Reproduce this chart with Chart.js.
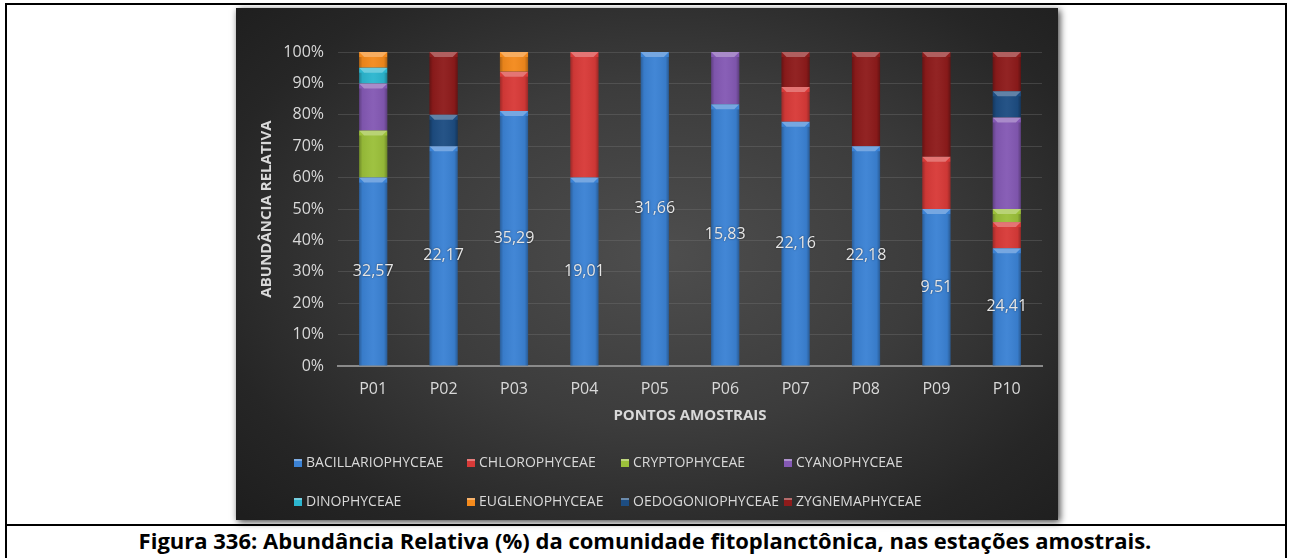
<!DOCTYPE html>
<html>
<head>
<meta charset="utf-8">
<script src="https://cdn.jsdelivr.net/npm/chart.js@4"></script>
<style>
  body { margin: 0; background: #fff; width: 1290px; height: 558px; overflow: hidden; position: relative; font-family: 'Open Sans', sans-serif; }
  #frame { position: absolute; left: 5px; top: 3px; width: 1278px; height: 600px; border: 2px solid #000; }
  #sep { position: absolute; left: 5px; top: 524px; width: 1282px; height: 2px; background: #000; }
  #panel {
    position: absolute; left: 236px; top: 8px; width: 822px; height: 512px;
    background: radial-gradient(ellipse 70% 75% at 52% 48%, #4e4e4e 0%, #3c3c3c 45%, #262626 80%, #1e1e1e 100%);
    box-shadow: 2px 2px 7px rgba(0,0,0,0.75);
  }
  #caption { position: absolute; left: 0; width: 1290px; top: 526px; text-align: center; font-weight: bold; font-size: 22px; line-height: 28px; color: #000; }
</style>
</head>
<body>
<div id="frame"></div>
<div id="panel"><canvas id="myChart" width="822" height="512"></canvas></div>
<div id="sep"></div>
<div id="caption">Figura 336: Abundância Relativa (%) da comunidade fitoplanctônica, nas estações amostrais.</div>
<script>
// Stations along the x axis.
const stations = ['P01', 'P02', 'P03', 'P04', 'P05', 'P06', 'P07', 'P08', 'P09', 'P10'];

// Relative abundance (%) per class, stacked bottom to top.
const bacillariophyceae = [60, 70, 81.25, 60, 100, 83.33, 77.78, 70, 50, 37.5];
const chlorophyceae     = [0, 0, 12.5, 40, 0, 0, 11.11, 0, 16.67, 8.33];
const cryptophyceae     = [15, 0, 0, 0, 0, 0, 0, 0, 0, 4.17];
const cyanophyceae      = [15, 0, 0, 0, 0, 16.67, 0, 0, 0, 29.17];
const dinophyceae       = [5, 0, 0, 0, 0, 0, 0, 0, 0, 0];
const euglenophyceae    = [5, 0, 6.25, 0, 0, 0, 0, 0, 0, 0];
const oedogoniophyceae  = [0, 10, 0, 0, 0, 0, 0, 0, 0, 8.33];
const zygnemaphyceae    = [0, 20, 0, 0, 0, 0, 11.11, 30, 33.33, 12.5];

// Values written on the Bacillariophyceae segments.
const bacillariophyceaeLabels = [32.57, 22.17, 35.29, 19.01, 31.66, 15.83, 22.16, 22.18, 9.51, 24.41];

// y axis ticks
const yTicks = [0, 10, 20, 30, 40, 50, 60, 70, 80, 90, 100];

const series = [
    { label: 'BACILLARIOPHYCEAE', data: bacillariophyceae, color: '#3b82d4' },
    { label: 'CHLOROPHYCEAE', data: chlorophyceae, color: '#d83a38' },
    { label: 'CRYPTOPHYCEAE', data: cryptophyceae, color: '#9bc03a' },
    { label: 'CYANOPHYCEAE', data: cyanophyceae, color: '#8459b4' },
    { label: 'DINOPHYCEAE', data: dinophyceae, color: '#2cb6cf' },
    { label: 'EUGLENOPHYCEAE', data: euglenophyceae, color: '#f48a1c' },
    { label: 'OEDOGONIOPHYCEAE', data: oedogoniophyceae, color: '#1d4d82' },
    { label: 'ZYGNEMAPHYCEAE', data: zygnemaphyceae, color: '#8e1b1b' }
];

const FONT = "'Open Sans', sans-serif";

// Bevel: light top face and shaded sides on each segment.
const bevelPlugin = {
    id: 'bevel',
    afterDatasetsDraw(chart) {
        const ctx = chart.ctx;
        chart.data.datasets.forEach((ds, i) => {
            const meta = chart.getDatasetMeta(i);
            meta.data.forEach((bar) => {
                const { x, y, base, width } = bar.getProps(['x', 'y', 'base', 'width'], true);
                const h = base - y;
                if (h < 1) return;
                const l = x - width / 2, r = x + width / 2;
                const d = Math.min(5, h / 2);
                ctx.save();
                ctx.fillStyle = 'rgba(255,255,255,0.30)';
                ctx.beginPath();
                ctx.moveTo(l, y);
                ctx.lineTo(r, y);
                ctx.lineTo(r - 5, y + d);
                ctx.lineTo(l + 5, y + d);
                ctx.closePath();
                ctx.fill();
                const g = ctx.createLinearGradient(l, 0, r, 0);
                g.addColorStop(0, 'rgba(0,0,0,0.28)');
                g.addColorStop(0.12, 'rgba(0,0,0,0.05)');
                g.addColorStop(0.5, 'rgba(255,255,255,0.04)');
                g.addColorStop(0.88, 'rgba(0,0,0,0.05)');
                g.addColorStop(1, 'rgba(0,0,0,0.30)');
                ctx.fillStyle = g;
                ctx.fillRect(l, y + d, width, h - d);
                ctx.restore();
            });
        });
    }
};

// Numbers in the middle of the Bacillariophyceae segments.
const segmentLabelPlugin = {
    id: 'segmentLabels',
    afterDatasetsDraw(chart) {
        const ctx = chart.ctx;
        const meta = chart.getDatasetMeta(0);
        ctx.save();
        ctx.font = '16px ' + FONT;
        ctx.fillStyle = '#e6e6e6';
        ctx.textAlign = 'center';
        ctx.textBaseline = 'middle';
        ctx.shadowColor = 'rgba(0,0,0,0.5)';
        ctx.shadowBlur = 2;
        meta.data.forEach((bar, i) => {
            const { x, y, base } = bar.getProps(['x', 'y', 'base'], true);
            const text = bacillariophyceaeLabels[i].toFixed(2).replace('.', ',');
            ctx.fillText(text, x, (y + base) / 2);
        });
        ctx.restore();
    }
};

// Two-row legend with fixed columns under the x axis title.
const gridLegendPlugin = {
    id: 'gridLegend',
    afterDraw(chart) {
        const ctx = chart.ctx;
        const cols = [58, 231, 385, 548];
        const rows = [455, 494];
        ctx.save();
        ctx.font = '14px ' + FONT;
        ctx.textBaseline = 'middle';
        chart.data.datasets.forEach((ds, i) => {
            const cx = cols[i % 4];
            const cy = rows[Math.floor(i / 4)];
            ctx.fillStyle = ds.backgroundColor;
            ctx.fillRect(cx, cy - 4, 8, 8);
            ctx.fillStyle = 'rgba(255,255,255,0.35)';
            ctx.fillRect(cx, cy - 4, 8, 2);
            ctx.fillStyle = '#d9d9d9';
            ctx.fillText(ds.label, cx + 12, cy);
        });
        ctx.restore();
    }
};

document.addEventListener('DOMContentLoaded', () => {
    const ctx = document.getElementById('myChart').getContext('2d');

    new Chart(ctx, {
        type: 'bar',
        data: {
            labels: stations,
            datasets: series.map(s => ({
                label: s.label,
                data: s.data,
                backgroundColor: s.color,
                borderWidth: 0,
                barPercentage: 0.5,
                categoryPercentage: 0.8
            }))
        },
        options: {
            responsive: false,
            animation: false,
            layout: {
                padding: { top: 44, right: 16, bottom: 84, left: 0 }
            },
            plugins: {
                legend: { display: false },
                tooltip: { enabled: false }
            },
            scales: {
                x: {
                    stacked: true,
                    grid: { display: false, drawTicks: false },
                    border: { color: '#8a8a8a', width: 2 },
                    ticks: { color: '#d9d9d9', font: { family: FONT, size: 16 }, padding: 14 },
                    title: {
                        display: true,
                        text: 'PONTOS AMOSTRAIS',
                        color: '#d9d9d9',
                        font: { family: FONT, size: 15, weight: 'bold' },
                        padding: { top: 0, bottom: 11 }
                    },
                    afterFit: (scale) => { scale.height = 70; }
                },
                y: {
                    stacked: true,
                    min: 0,
                    max: 100,
                    afterBuildTicks: (scale) => { scale.ticks = yTicks.map(v => ({ value: v })); },
                    grid: { color: 'rgba(120,120,120,0.35)', drawTicks: false },
                    border: { display: false },
                    ticks: {
                        color: '#d9d9d9',
                        font: { family: FONT, size: 16 },
                        padding: 14,
                        callback: (v) => v + '%'
                    },
                    title: {
                        display: true,
                        text: 'ABUNDÂNCIA RELATIVA',
                        color: '#d9d9d9',
                        font: { family: FONT, size: 15, weight: 'bold' },
                        padding: { top: 22, bottom: 0 }
                    },
                    afterFit: (scale) => { scale.width = 102; }
                }
            }
        },
        plugins: [bevelPlugin, segmentLabelPlugin, gridLegendPlugin]
    });
});
</script>
</body>
</html>
